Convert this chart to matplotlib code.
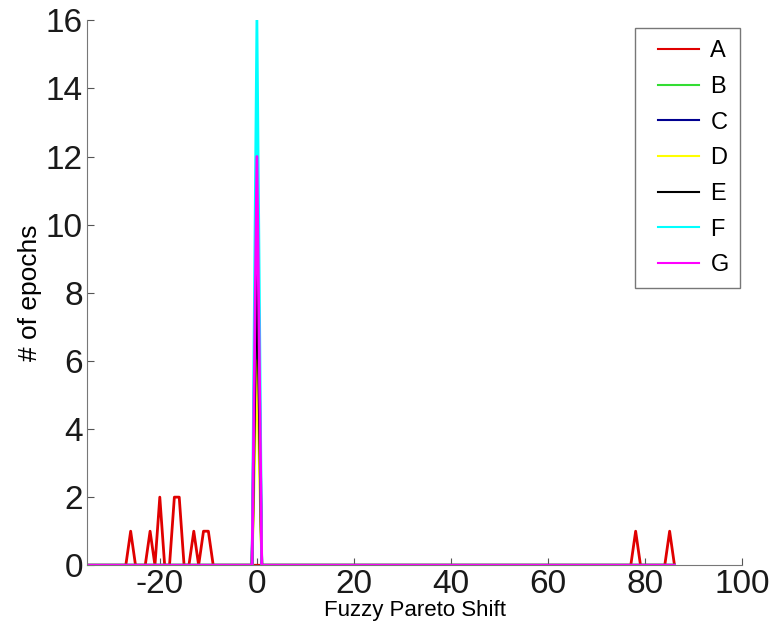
import numpy as np
import matplotlib.pyplot as plt
from matplotlib.lines import Line2D
from matplotlib.legend_handler import HandlerLine2D

plt.rcParams['font.family'] = ['Liberation Sans', 'DejaVu Sans']
plt.rcParams['axes.unicode_minus'] = False

# bin centres (shift values) and counts per series
shift = np.arange(-35, 87)

labels = ['A', 'B', 'C', 'D', 'E', 'F', 'G']
colors = ['#e00000', '#33dd33', '#000090', '#ffff00', '#000000', '#00ffff', '#ff00ff']

# non-zero bins for each series: {shift: count}
A_bins = {-26: 1, -22: 1, -20: 2, -17: 2, -16: 2, -13: 1, -11: 1, -10: 1, 78: 1, 85: 1}
B_bins = {0: 8}
C_bins = {0: 11}
D_bins = {0: 6}
E_bins = {0: 9}
F_bins = {0: 16}
G_bins = {0: 12}
all_bins = [A_bins, B_bins, C_bins, D_bins, E_bins, F_bins, G_bins]


def counts(bins):
    return np.array([bins.get(int(s), 0) for s in shift])


fig = plt.figure(figsize=(7.73, 6.33), dpi=100)
ax = fig.add_axes([0.1125, 0.107, 0.848, 0.861])

for lab, col, bins in zip(labels, colors, all_bins):
    ax.plot(shift, counts(bins), color=col, lw=2, label=lab)

ax.set_xlim(-35, 100)
ax.set_ylim(0, 16)
ax.set_xticks([-20, 0, 20, 40, 60, 80, 100])
ax.set_yticks(range(0, 17, 2))
ax.set_xlabel('Fuzzy Pareto Shift', fontsize=16, labelpad=0)
ax.set_ylabel('# of epochs', fontsize=19, labelpad=3)
ax.tick_params(direction='in', length=5, labelsize=24, colors='#555555',
               labelcolor='#1a1a1a', pad=3)
for side in ['top', 'right']:
    ax.spines[side].set_visible(False)
for side in ['left', 'bottom']:
    ax.spines[side].set_color('#777777')

leg = ax.legend(loc='upper right', fontsize=17, frameon=True, fancybox=False,
                handlelength=2.2, handletextpad=0.5, labelspacing=0.58,
                borderpad=0.5, borderaxespad=0,
                bbox_to_anchor=(0.997, 0.985),
                handler_map={Line2D: HandlerLine2D(xpad=0.47)})
leg.get_frame().set_edgecolor('#555555')
leg.get_frame().set_linewidth(1)
for h in leg.get_lines():
    h.set_linewidth(1.5)

plt.savefig('out.png', dpi=100)
